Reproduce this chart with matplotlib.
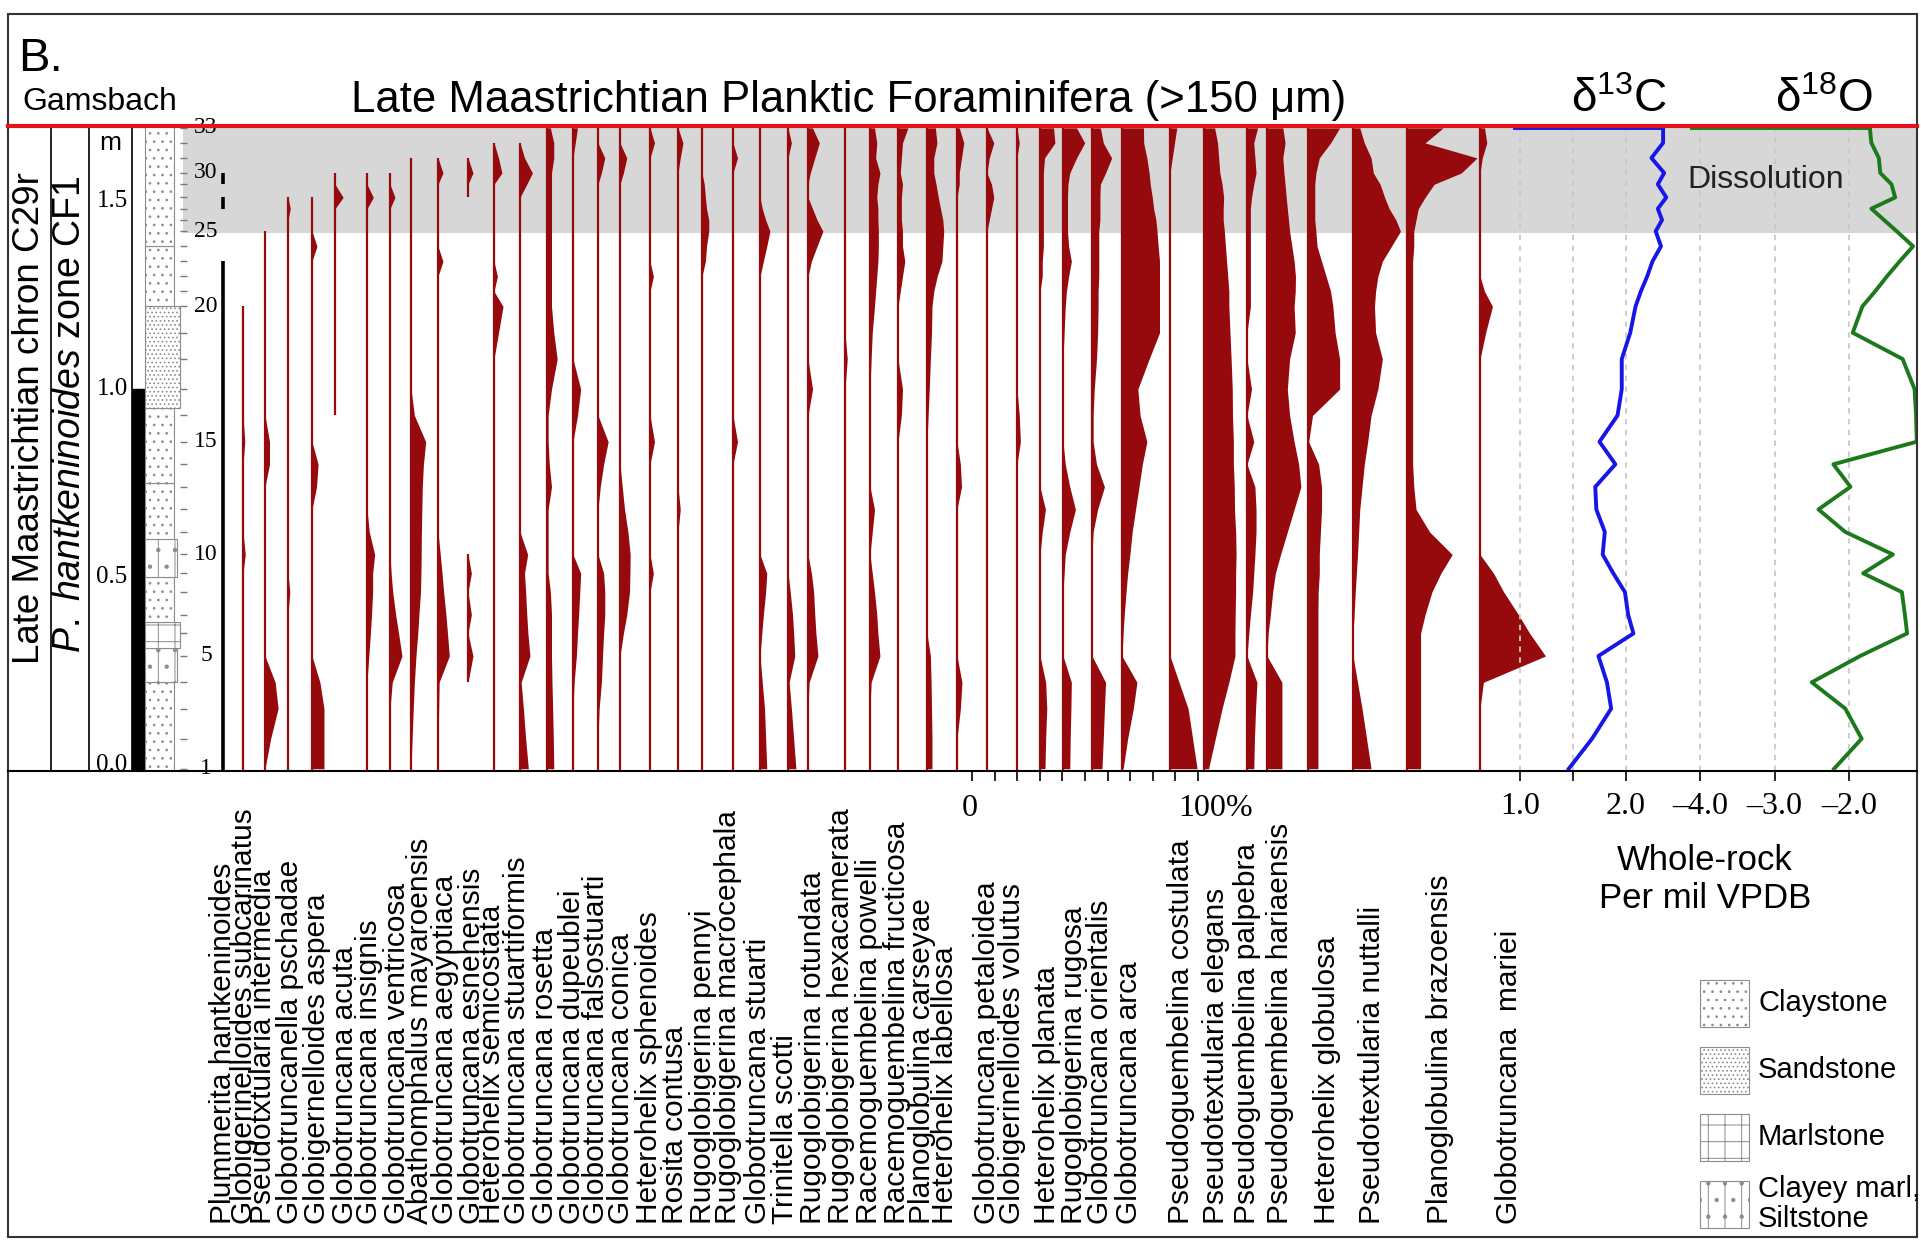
import numpy as np
import matplotlib
matplotlib.use("Agg")
import matplotlib.pyplot as plt
from matplotlib.patches import Rectangle
from matplotlib.lines import Line2D

plt.rcParams["font.family"] = ["Liberation Sans", "DejaVu Sans"]
plt.rcParams["mathtext.fontset"] = "custom"
plt.rcParams["mathtext.rm"] = "Liberation Sans"
plt.rcParams["mathtext.it"] = "Liberation Sans:italic"
plt.rcParams["hatch.linewidth"] = 0.7

# ---------------- data ----------------
# sample 1..33, height above base of section (m)
sample_height = [-0.01, 0.07, 0.15, 0.22, 0.29, 0.35, 0.40, 0.46, 0.51, 0.56, 0.62,
                 0.68, 0.74, 0.80, 0.86, 0.93, 1.00, 1.08, 1.15, 1.22, 1.26, 1.30,
                 1.34, 1.38, 1.42, 1.45, 1.48, 1.51, 1.545, 1.575, 1.615, 1.655, 1.695]
sample_labels = [1, 5, 10, 15, 20, 25, 30, 33]

d13c = [1.46, 1.68, 1.86, 1.82, 1.74, 2.07, 2.02, 1.99, 1.88, 1.78, 1.80, 1.72, 1.71,
        1.90, 1.75, 1.92, 1.96, 1.96, 2.04, 2.09, 2.14, 2.20, 2.25, 2.33, 2.28, 2.34,
        2.30, 2.38, 2.30, 2.36, 2.24, 2.35, 2.35]
d18o = [-2.20, -1.83, -2.05, -2.50, -1.85, -1.22, -1.25, -1.29, -1.81, -1.41, -2.05,
        -2.41, -1.98, -2.21, -1.09, -1.10, -1.12, -1.28, -1.95, -1.82, -1.65, -1.49,
        -1.32, -1.14, -1.36, -1.53, -1.70, -1.38, -1.43, -1.58, -1.60, -1.70, -1.72]

species = [
    "Plummerita hantkeninoides", "Globigerinelloides subcarinatus",
    "Pseudotxtularia intermedia", "Globotruncanella pschadae",
    "Globigernelloides aspera", "Globotruncana acuta", "Globotruncana insignis",
    "Globotruncana ventricosa", "Abathomphalus mayaroensis", "Globotruncana aegyptiaca",
    "Globotruncana esnehensis", "Heterohelix semicostata", "Globotruncana stuartiformis",
    "Globotruncana rosetta", "Globotruncana dupeublei", "Globotruncana falsostuarti",
    "Globotruncana conica", "Heterohelix sphenoides", "Rosita contusa",
    "Rugoglobigerina pennyi", "Rugoglobigerina macrocephala", "Globotruncana stuarti",
    "Trinitella scotti", "Rugoglobigerina rotundata", "Rugoglobigerina hexacamerata",
    "Racemoguembelina powelli", "Racemoguembelina fructicosa", "Planoglobulina carseyae",
    "Heterohelix labellosa", "Globotruncana petaloidea", "Globigerinelloides volutus",
    "Heterohelix planata", "Rugoglobigerina rugosa", "Globotruncana orientalis",
    "Globotruncana arca", "Pseudoguembelina costulata", "Pseudotextularia elegans",
    "Pseudoguembelina palpebra", "Pseudoguembelina hariaensis", "Heterohelix globulosa",
    "Pseudotextularia nuttalli", "Planoglobulina brazoensis", "Globotruncana  mariei",
]

# occurrence ranges (lowest sample, highest sample)
ranges = [
    [(1, 23), (27, 28), (29, 30)], [(1, 20)], [(1, 25)], [(1, 28)], [(1, 28)],
    [(16, 30)], [(1, 30)], [(1, 30)], [(1, 31)], [(1, 31)], [(4, 10), (28, 31)],
    [(1, 32)], [(1, 32)],
] + [[(1, 33)]] * 30

# relative abundance (%) per sample; samples not listed are present at ~0 %
abund = [
    {},
    {10: 1.0, 15: 0.8},
    {15: 2.0, 14: 2.0, 4: 4.5, 3: 5.8, 2: 2.5},
    {27: 1.0, 8: 0.8},
    {24: 2.2, 14: 2.7, 13: 2.0, 4: 3.5, 3: 5.3, 2: 5.3, 1: 5.3},
    {28: 3.6},
    {28: 2.8, 11: 1.0, 10: 3.4, 9: 2.5, 8: 2.5, 7: 2.0, 6: 1.5, 5: 0.8},
    {28: 2.2, 9: 0.5, 8: 1.2, 7: 2.5, 6: 3.8, 5: 5.3, 4: 1.0},
    {16: 1.5, 15: 6.5, 14: 5.5, 13: 5.0, 12: 4.8, 11: 4.6, 10: 4.5, 9: 4.4, 8: 4.2,
     7: 3.5, 6: 3.0, 5: 2.2, 4: 1.5, 3: 1.0, 2: 0.5},
    {30: 2.2, 23: 2.2, 10: 1.0, 9: 1.8, 8: 2.5, 7: 3.5, 6: 4.2, 5: 5.0, 4: 0.5, 3: 0.3},
    {30: 2.2, 9: 1.5, 7: 1.5, 5: 2.2},
    {31: 2.0, 30: 3.5, 22: 1.5, 20: 4.0, 19: 2.0},
    {31: 2.0, 30: 5.5, 29: 3.0, 10: 3.4, 9: 2.0, 8: 2.5, 7: 3.0, 6: 3.5, 5: 4.4,
     4: 0.5, 3: 1.5, 2: 2.5, 1: 3.7},
    {33: 1.5, 32: 3.0, 31: 3.0, 30: 2.0, 29: 2.0, 28: 2.0, 27: 2.0, 26: 2.0, 25: 2.0,
     24: 2.0, 23: 2.0, 22: 2.0, 21: 2.0, 20: 2.0, 19: 3.0, 18: 4.5, 17: 2.0, 16: 0.5,
     15: 0.5, 14: 1.0, 13: 2.0, 12: 0.5, 11: 0.5, 10: 0.5, 9: 0.5, 8: 1.5, 7: 2.0,
     6: 2.0, 5: 2.0, 4: 2.2, 3: 2.5, 2: 2.8, 1: 3.0},
    {33: 2.0, 32: 1.0, 17: 3.4, 16: 2.0, 9: 3.4, 8: 3.0, 7: 2.5, 6: 2.0, 5: 1.5, 4: 0.5},
    {31: 3.0, 30: 1.5, 15: 4.5, 14: 2.5, 13: 1.0, 9: 2.5, 8: 3.0, 7: 3.0, 6: 2.5,
     5: 2.0, 4: 1.5, 3: 0.5},
    {31: 3.0, 30: 1.5, 13: 1.0, 12: 2.0, 11: 3.5, 10: 4.5, 9: 4.4, 8: 4.2, 7: 3.0, 6: 1.5},
    {32: 2.0, 22: 1.5, 15: 2.0, 9: 1.5},
    {32: 2.2, 31: 1.0, 12: 1.0},
    {29: 1.0, 28: 1.5, 27: 2.0, 26: 3.0, 25: 3.0, 24: 2.0, 23: 1.5},
    {31: 2.0, 15: 2.0},
    {27: 1.0, 26: 2.5, 25: 4.4, 24: 3.0, 23: 1.5, 9: 3.0, 8: 2.5, 7: 1.5, 6: 0.8,
     4: 1.0, 3: 2.0, 2: 2.5, 1: 3.0},
    {32: 1.5, 8: 1.0, 7: 2.0, 6: 2.5, 5: 3.0, 4: 0.5, 3: 1.5, 2: 2.5, 1: 3.5},
    {33: 2.0, 32: 5.0, 31: 3.0, 30: 1.0, 27: 2.0, 26: 4.0, 25: 6.6, 24: 4.0, 23: 1.5,
     17: 2.0, 9: 1.5, 8: 2.5, 7: 3.0, 6: 3.5, 5: 4.4, 4: 0.5},
    {18: 1.0},
    {33: 2.0, 32: 3.0, 31: 2.5, 30: 4.4, 29: 3.5, 28: 3.0, 27: 3.5, 26: 3.5, 25: 3.7,
     24: 3.7, 23: 3.5, 22: 3.0, 21: 2.5, 20: 2.0, 19: 1.0, 18: 0.5, 12: 2.0, 11: 1.0,
     9: 1.0, 8: 2.0, 7: 3.0, 6: 3.5, 5: 4.4, 4: 0.5},
    {33: 4.4, 32: 2.0, 31: 1.5, 30: 1.0, 29: 2.0, 28: 1.5, 27: 1.5, 26: 1.5, 25: 2.0,
     24: 2.0, 23: 3.0, 22: 2.0, 21: 1.0, 17: 2.0, 16: 1.5},
    {33: 3.7, 32: 4.4, 31: 3.0, 30: 3.0, 29: 4.0, 28: 5.0, 27: 6.0, 26: 7.0, 25: 7.4,
     24: 7.0, 23: 6.6, 22: 4.5, 21: 3.0, 20: 2.2, 19: 2.0, 18: 1.5, 17: 1.0, 16: 0.5,
     5: 1.5, 4: 1.8, 3: 2.0, 2: 2.2, 1: 2.2},
    {33: 1.0, 32: 3.0, 31: 2.0, 30: 1.0, 29: 1.0, 14: 1.5, 13: 2.0, 4: 2.2, 3: 1.5},
    {32: 3.0, 31: 1.0, 29: 2.0, 28: 3.0, 27: 2.0, 26: 1.0},
    {32: 1.0, 16: 1.0, 15: 1.5},
    {33: 6.0, 32: 6.6, 31: 2.0, 30: 1.5, 29: 1.5, 28: 1.5, 27: 1.5, 26: 1.5, 25: 1.5,
     24: 1.5, 23: 1.0, 22: 1.0, 12: 2.4, 11: 1.0, 4: 2.5, 3: 3.0, 2: 2.5, 1: 2.2},
    {33: 6.0, 32: 9.6, 31: 6.0, 30: 3.0, 29: 2.2, 28: 2.0, 27: 2.0, 26: 2.0, 25: 2.0,
     24: 2.5, 23: 3.7, 22: 2.5, 21: 1.5, 20: 1.0, 19: 0.5, 14: 1.0, 13: 3.0, 12: 5.5,
     11: 3.0, 10: 1.0, 9: 0.5, 4: 3.7, 3: 3.5, 2: 3.2, 1: 3.0},
    {33: 3.7, 32: 5.0, 31: 8.7, 30: 6.0, 29: 3.7, 28: 3.5, 27: 3.5, 26: 3.5, 25: 3.0,
     24: 3.0, 23: 3.0, 22: 3.0, 21: 2.7, 20: 2.7, 19: 2.5, 18: 2.0, 17: 1.0, 16: 0.5,
     15: 0.5, 14: 2.0, 13: 5.5, 12: 2.5, 11: 0.5, 4: 6.0, 3: 5.5, 2: 5.0, 1: 4.4},
    {33: 9.5, 32: 9.6, 31: 11.0, 30: 12.0, 29: 12.5, 28: 13.4, 27: 14.0, 26: 15.0,
     25: 15.5, 24: 16.0, 23: 16.6, 22: 16.6, 21: 16.6, 20: 16.6, 19: 16.6, 18: 12.0,
     17: 7.0, 16: 8.0, 15: 11.0, 14: 9.0, 13: 7.5, 12: 6.0, 11: 4.5, 10: 3.5, 9: 2.5,
     8: 1.8, 7: 1.0, 6: 0.5, 4: 6.6, 3: 5.0, 2: 2.5, 1: 0.5},
    {33: 3.0, 32: 2.0, 31: 1.0, 4: 4.0, 3: 8.0, 2: 10.0, 1: 12.0},
    {33: 4.7, 32: 6.0, 31: 6.5, 30: 7.0, 29: 8.0, 28: 8.7, 27: 8.5, 26: 8.5, 25: 9.0,
     24: 9.5, 23: 10.0, 22: 10.5, 21: 11.0, 20: 11.0, 19: 11.5, 18: 12.0, 17: 12.5,
     16: 12.6, 15: 13.0, 14: 13.0, 13: 13.4, 12: 13.5, 11: 14.0, 10: 14.2, 9: 14.0,
     8: 14.0, 7: 13.8, 6: 13.7, 5: 13.7, 4: 11.0, 3: 8.0, 2: 5.0, 1: 2.0},
    {33: 4.7, 32: 3.0, 31: 3.5, 30: 4.0, 29: 3.0, 28: 2.0, 27: 1.5, 26: 1.5, 25: 1.5,
     24: 1.5, 23: 1.5, 22: 1.5, 21: 1.5, 20: 1.5, 17: 2.0, 15: 3.0, 13: 3.5, 12: 4.0,
     11: 4.0, 10: 3.5, 9: 3.0, 8: 2.5, 7: 1.5, 6: 0.8, 4: 4.4, 3: 3.8, 2: 3.3, 1: 3.0},
    {33: 7.0, 32: 8.0, 31: 7.0, 30: 7.5, 29: 8.0, 28: 8.5, 27: 9.0, 26: 9.5, 25: 10.0,
     24: 11.0, 23: 12.0, 22: 12.6, 21: 12.5, 20: 12.0, 19: 12.5, 18: 10.0, 17: 9.0,
     16: 10.0, 15: 12.0, 14: 14.0, 13: 15.0, 12: 12.0, 11: 9.0, 10: 6.0, 9: 3.7,
     8: 2.5, 7: 1.5, 6: 0.5, 4: 6.6, 3: 6.6, 2: 6.6, 1: 6.6},
    {33: 14.0, 32: 10.0, 31: 5.0, 30: 3.5, 29: 3.0, 28: 3.0, 27: 3.0, 26: 3.0, 25: 3.5,
     24: 4.0, 23: 6.0, 22: 8.0, 21: 10.0, 20: 11.0, 19: 12.0, 18: 14.0, 17: 14.0,
     16: 2.0, 15: 0.3, 14: 4.7, 13: 6.0, 12: 6.0, 11: 5.5, 10: 5.0, 9: 5.0, 8: 4.5,
     7: 4.4, 6: 4.4, 5: 4.4, 4: 4.4, 3: 4.4, 2: 4.4, 1: 4.4},
    {33: 3.0, 32: 5.0, 31: 8.0, 30: 9.0, 29: 12.0, 28: 14.0, 27: 16.0, 26: 19.0,
     25: 21.0, 24: 17.0, 23: 13.0, 22: 11.0, 21: 10.0, 20: 9.5, 19: 10.0, 18: 13.0,
     17: 11.0, 16: 8.0, 15: 6.5, 14: 5.0, 13: 4.0, 12: 3.0, 11: 2.5, 10: 2.0, 9: 1.5,
     8: 1.0, 7: 0.5, 4: 2.0, 3: 4.0, 2: 6.0, 1: 8.0},
    {33: 16.0, 32: 8.0, 31: 31.0, 30: 24.0, 29: 12.0, 28: 8.0, 27: 5.0, 26: 4.0,
     25: 3.0, 24: 3.0, 23: 2.5, 22: 2.5, 21: 2.5, 20: 2.5, 19: 2.5, 18: 2.5, 17: 2.5,
     16: 2.5, 15: 2.5, 14: 2.5, 13: 3.0, 12: 4.0, 11: 10.0, 10: 20.0, 9: 15.0,
     8: 11.0, 7: 8.0, 6: 6.0, 5: 6.0, 4: 6.0, 3: 6.0, 2: 6.0, 1: 6.0},
    {33: 2.0, 32: 3.0, 31: 1.0, 21: 2.0, 20: 5.5, 19: 2.5, 9: 6.0, 8: 10.5, 7: 17.0,
     6: 22.0, 5: 29.0, 4: 1.5},
]

meter_ticks = [0.0, 0.5, 1.0, 1.5]
chron_top = 1.0
dissolution_base = 1.415

litho_top = [0.22, 0.31, 0.38, 0.50, 0.60, 0.75, 0.95, 1.22, 1.38, 1.70]
litho_kind = ["claystone", "clayey", "marlstone", "claystone", "clayey", "claystone",
              "claystone", "sandstone", "claystone", "claystone"]
legend_kind = ["claystone", "sandstone", "marlstone", "clayey"]
legend_text = ["Claystone", "Sandstone", "Marlstone", "Clayey marl,\nSiltstone"]

# ---------------- layout (pixels of the 1921 x 1244 canvas) ----------------
W, H = 1921, 1244
Y_TOP, Y_BOT = 126, 771
YLIM = (-0.016, 1.70)
PX_PER_PCT = 2.26
col_px = [223, 243, 265, 288, 312, 335, 367, 390, 411, 438, 468, 494, 520, 547, 573,
          598, 620, 650, 678, 702, 733, 760, 788, 808, 845, 870, 898, 927, 957, 987,
          1017, 1040, 1063, 1092, 1122, 1170, 1204, 1247, 1267, 1308, 1353, 1407, 1480]
label_px = [223, 244, 263, 290, 317, 345, 369, 397, 420, 445, 472, 492, 517, 545, 572,
            596, 621, 649, 675, 703, 728, 758, 785, 813, 841, 869, 897, 922, 945, 987,
            1012, 1047, 1074, 1100, 1129, 1181, 1216, 1247, 1280, 1327, 1372, 1440, 1509]
hatch = {"claystone": "..", "sandstone": "....", "marlstone": "+", "clayey": "|."}
litho_w = {"claystone": 29, "sandstone": 35, "marlstone": 35, "clayey": 32}
RED = "#960a0e"
SERIF = "Liberation Serif"

fig = plt.figure(figsize=(W / 100, H / 100), dpi=100)


def fx(px):
    return px / W


def fy(py):
    return 1 - py / H


def add_ax(x0, x1, xlim):
    a = fig.add_axes([fx(x0), fy(Y_BOT), (x1 - x0) / W, (Y_BOT - Y_TOP) / H])
    a.set_xlim(*xlim)
    a.set_ylim(*YLIM)
    a.patch.set_alpha(0)
    for s in a.spines.values():
        s.set_visible(False)
    a.set_yticks([])
    a.set_xticks([])
    return a


h = np.array(sample_height)

# background: dissolution band
axbg = add_ax(183, 1917, (0, 1))
axbg.axhspan(dissolution_base, YLIM[1], color="#d7d7d7", lw=0)

# left strip: stratigraphy columns
al = add_ax(8, 223, (8, 223))
al.vlines([51, 89, 132], YLIM[0], YLIM[1], color="black", lw=1.2)
al.add_patch(Rectangle((132, YLIM[0]), 13, chron_top - YLIM[0], color="black"))
bottom = YLIM[0]
for top, kind in zip(litho_top, litho_kind):
    al.add_patch(Rectangle((145, bottom), litho_w[kind], top - bottom, facecolor="white",
                           edgecolor="#8c8c8c", hatch=hatch[kind], lw=0.8))
    bottom = top
for m in meter_ticks:
    al.text(112, m, f"{m:.1f}", ha="center", va="center", fontsize=18, family=SERIF)
al.text(110, 1.655, "m", ha="center", va="center", fontsize=19)
al.hlines(h, 180, 187, color="#7a7a7a", lw=1)
for s in sample_labels:
    al.text(206, h[s - 1], str(s), ha="center", va="center", fontsize=17, family=SERIF)

# foraminifera columns
ax = add_ax(200, 1560, (0, 1360 / PX_PER_PCT))
for i, name in enumerate(species):
    base = (col_px[i] - 200) / PX_PER_PCT
    vals = np.array([abund[i].get(s, 0.0) for s in range(1, 34)])
    lc = "black" if i == 0 else RED
    for lo, hi in ranges[i]:
        hh = h[lo - 1:hi]
        vv = vals[lo - 1:hi]
        ax.fill_betweenx(hh, base, base + vv, color=RED, lw=0)
        y0 = YLIM[0] if lo == 1 else hh[0]
        ax.plot([base, base], [y0, hh[-1]], color=lc, lw=2.6 if i == 0 else 1.6,
                solid_capstyle="butt")
scale0 = (972 - 200) / PX_PER_PCT
ax.set_xticks(scale0 + np.arange(0, 101, 10))
ax.set_xticklabels([])
ax.tick_params(axis="x", direction="out", length=7, width=1.2, color="black")

# isotopes
ac = add_ax(1490, 1690, (1 + (1490 - 1520) / 106, 1 + (1690 - 1520) / 106))
ao = add_ax(1690, 1917, (-2 + (1690 - 1849) / 74.5, -2 + (1917 - 1849) / 74.5))
for a, ticks, labs in [(ac, [1.0, 1.5, 2.0], ["1.0", "", "2.0"]),
                       (ao, [-4.0, -3.0, -2.0], ["\u20134.0", "\u20133.0", "\u20132.0"])]:
    a.set_xticks(ticks)
    a.set_xticklabels(labs, fontsize=23, family=SERIF)
    a.tick_params(axis="x", direction="out", length=7, width=1.2, pad=8)
    a.grid(axis="x", color="#c9c9c9", ls=(0, (3, 3)), lw=1.3)
ac.plot(d13c, h, color="#1616e8", lw=2.8)
ac.plot([0.95, d13c[-1]], [h[-1], h[-1]], color="#1616e8", lw=2.8)
ao.plot(d18o, h, color="#1c7a1c", lw=2.8)
ao.plot([ao.get_xlim()[0], d18o[-1]], [h[-1], h[-1]], color="#1c7a1c", lw=2.8)

# frame lines
fig.add_artist(Rectangle((fx(8), fy(1237)), 1909 / W, (1237 - 14) / H,
                         transform=fig.transFigure, fill=False, ec="#333333", lw=1.5))
fig.add_artist(Line2D([fx(8), fx(1917)], [fy(Y_BOT)] * 2, transform=fig.transFigure,
                      color="black", lw=1.5))
fig.add_artist(Line2D([fx(8), fx(1917)], [fy(Y_TOP)] * 2, transform=fig.transFigure,
                      color="#e3121b", lw=3, zorder=10))

# texts
fig.text(fx(18), fy(71), "B.", fontsize=34, va="baseline")
fig.text(fx(22), fy(110), "Gamsbach", fontsize=23, va="baseline")
fig.text(fx(849), fy(112), "Late Maastrichtian Planktic Foraminifera (>150 \u03bcm)",
         fontsize=31.5, ha="center", va="baseline")
fig.text(fx(1619), fy(112), r"δ$^{\mathrm{13}}$C", fontsize=33, ha="center", va="baseline")
fig.text(fx(1824), fy(112), r"δ$^{\mathrm{18}}$O", fontsize=33, ha="center", va="baseline")
fig.text(fx(1766), fy(180), "Dissolution", fontsize=23, ha="center", va="center",
         color="#222222")
fig.text(fx(30), fy(418), "Late Maastrichtian chron C29r", rotation=90, fontsize=26.5,
         ha="center", va="center")
fig.text(fx(70), fy(414), r"$\mathit{P.\ hantkeninoides}$ zone CF1", rotation=90,
         fontsize=27, ha="center", va="center")
fig.text(fx(970), fy(816), "0", fontsize=23, family=SERIF, ha="center", va="baseline")
fig.text(fx(1216), fy(816), "100%", fontsize=23, family=SERIF, ha="center", va="baseline")
fig.text(fx(1705), fy(861), "Whole-rock", fontsize=25, ha="center", va="center")
fig.text(fx(1705), fy(898), "Per mil VPDB", fontsize=25, ha="center", va="center")
for name, px in zip(species, label_px):
    fig.text(fx(px), fy(1224), name, rotation=90, fontsize=21.5, ha="center", va="bottom")

# lithology legend
for k, (kind, txt) in enumerate(zip(legend_kind, legend_text)):
    y0 = 980 + k * 67
    fig.add_artist(Rectangle((fx(1700), fy(y0 + 47)), 49 / W, 47 / H,
                             transform=fig.transFigure, facecolor="white",
                             edgecolor="#8c8c8c", hatch=hatch[kind], lw=0.8))
    fig.text(fx(1758), fy(y0 + 23), txt, fontsize=21, va="center", linespacing=1.05)

fig.savefig("out.png", dpi=100)
